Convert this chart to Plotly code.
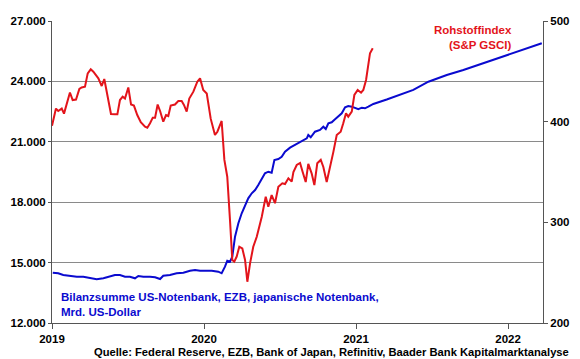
import plotly.graph_objects as go

# Commodity index (S&P GSCI), right axis; x in decimal years
red_t = [2019.000, 2019.026, 2019.041, 2019.064, 2019.079, 2019.107, 2019.118, 2019.136, 2019.158, 2019.180,
         2019.195, 2019.217, 2019.235, 2019.255, 2019.272, 2019.305, 2019.327, 2019.344, 2019.364, 2019.388,
         2019.414, 2019.430, 2019.447, 2019.465, 2019.480, 2019.502, 2019.520, 2019.539, 2019.561, 2019.584,
         2019.612, 2019.627, 2019.645, 2019.663, 2019.678, 2019.695, 2019.711, 2019.732, 2019.750, 2019.765,
         2019.781, 2019.809, 2019.831, 2019.853, 2019.868, 2019.886, 2019.903, 2019.930, 2019.956, 2019.974,
         2019.995, 2020.018, 2020.044, 2020.072, 2020.088, 2020.116, 2020.134, 2020.153, 2020.171, 2020.186,
         2020.199, 2020.215, 2020.232, 2020.252, 2020.270, 2020.285, 2020.303, 2020.324, 2020.347, 2020.380,
         2020.406, 2020.423, 2020.445, 2020.467, 2020.489, 2020.515, 2020.533, 2020.555, 2020.577, 2020.588,
         2020.610, 2020.632, 2020.649, 2020.669, 2020.686, 2020.708, 2020.726, 2020.745, 2020.768, 2020.785,
         2020.807, 2020.829, 2020.851, 2020.873, 2020.899, 2020.916, 2020.934, 2020.949, 2020.972, 2020.989,
         2021.011, 2021.033, 2021.048, 2021.066, 2021.081, 2021.092, 2021.110]
red_v = [396, 413, 410.6, 413, 408, 424.8, 429, 421.5, 422, 432.5,
         434, 434.7, 448, 452, 449.6, 443, 435.4, 442.4, 426.5, 407.6,
         407.3, 407.3, 421.5, 424.8, 423, 434, 417, 416, 406.6, 399.4,
         395, 394, 398.4, 404, 404, 417, 410.6, 400, 406.6, 405.6,
         416, 417, 420.5, 420.5, 416.6, 410, 423, 429.8, 439.7, 443,
         431.5, 428, 403, 386.8, 390, 400.7, 362, 345.3, 302, 262.6,
         261, 266, 275.8, 274, 262.6, 241, 259.3, 275.8, 285.7, 305.6,
         325.5, 315.5, 327, 319, 335.4, 338.8, 338, 343.7, 340.4, 350,
         357, 359, 350, 340, 358, 348.7, 337, 358.6, 362, 355,
         340, 353.7, 370, 386.8, 390, 398.4, 408.3, 405, 410, 426.5,
         431.5, 428.8, 431.5, 441.4, 459.6, 468, 473]

# Balance sheet total Fed + ECB + BoJ, bn USD, left axis
blue_t = [2019.005, 2019.041, 2019.074, 2019.118, 2019.163, 2019.206, 2019.250, 2019.294, 2019.338, 2019.370,
          2019.414, 2019.447, 2019.480, 2019.513, 2019.546, 2019.568, 2019.601, 2019.645, 2019.678, 2019.711,
          2019.732, 2019.776, 2019.820, 2019.864, 2019.908, 2019.941, 2019.974, 2020.018, 2020.051, 2020.094,
          2020.116, 2020.138, 2020.153, 2020.171, 2020.186, 2020.204, 2020.226, 2020.248, 2020.270, 2020.291,
          2020.314, 2020.336, 2020.357, 2020.380, 2020.401, 2020.423, 2020.445, 2020.463, 2020.489, 2020.511,
          2020.533, 2020.566, 2020.610, 2020.653, 2020.676, 2020.686, 2020.702, 2020.730, 2020.763, 2020.785,
          2020.801, 2020.818, 2020.840, 2020.862, 2020.884, 2020.906, 2020.928, 2020.949, 2020.972, 2020.993,
          2021.015, 2021.038, 2021.059, 2021.081, 2021.114, 2021.202, 2021.289, 2021.377, 2021.476, 2021.597,
          2021.706, 2021.816, 2021.926, 2022.035, 2022.145, 2022.222]
blue_v = [14498, 14469, 14384, 14334, 14300, 14300, 14220, 14170, 14220, 14300,
          14384, 14384, 14300, 14300, 14220, 14334, 14300, 14300, 14270, 14185,
          14350, 14384, 14469, 14498, 14598, 14632, 14598, 14598, 14598, 14548,
          14469, 14797, 15094, 15045, 15293, 16287, 16952, 17449, 17861, 18193,
          18442, 18606, 18855, 19187, 19436, 19515, 19465, 20096, 20146, 20260,
          20509, 20707, 20891, 21055, 21174, 21338, 21224, 21502, 21587, 21750,
          21636, 21919, 21969, 22118, 22247, 22416, 22714, 22779, 22744, 22664,
          22615, 22694, 22664, 22744, 22878, 23100, 23330, 23580, 23985, 24318,
          24566, 24849, 25147, 25396, 25674, 25892]

year_ticks = [2019, 2020, 2021, 2022]
year_labels = ["2019", "2020", "2021", "2022"]
left_ticks = [12000, 15000, 18000, 21000, 24000, 27000]
right_ticks = [200, 300, 400, 500]

FONT = "Liberation Sans, Arial, sans-serif"
RED = "#E3141B"
BLUE = "#0A0ACF"

fig = go.Figure()
fig.add_trace(go.Scatter(x=red_t, y=red_v, yaxis="y2", mode="lines",
                         line=dict(color=RED, width=2), showlegend=False))
fig.add_trace(go.Scatter(x=blue_t, y=blue_v, yaxis="y", mode="lines",
                         line=dict(color=BLUE, width=2), showlegend=False))

tf = dict(family=FONT, size=11.5, color="#000000", weight="bold")
fig.update_layout(
    width=572, height=351,
    margin=dict(l=44, r=37, t=13, b=36, autoexpand=False),
    paper_bgcolor="white", plot_bgcolor="white",
    separators=",.",
    font=dict(family=FONT),
    xaxis=dict(range=[2019, 2022.23], tickvals=year_ticks, ticktext=year_labels, automargin=False,
               showgrid=False, zeroline=False, showline=True, linecolor="#555555", linewidth=1,
               ticks="outside", ticklen=5, tickcolor="#555555", tickfont=tf),
    yaxis=dict(range=[12000, 27000], tickvals=left_ticks, tickformat=",d", automargin=False,
               showgrid=True, gridcolor="#8a8a8a", gridwidth=1, zeroline=False,
               showline=True, linecolor="#555555", linewidth=1,
               ticks="outside", ticklen=3, tickcolor="#555555", tickfont=tf),
    yaxis2=dict(range=[200, 500], tickvals=right_ticks, overlaying="y", side="right", automargin=False,
                showgrid=False, zeroline=False, showline=True, linecolor="#555555", linewidth=1,
                ticks="outside", ticklen=4, tickcolor="#555555", tickfont=tf),
    annotations=[
        dict(text="Rohstoffindex<br>(S&P GSCI)", xref="paper", yref="paper", x=0.941, y=0.947,
             xanchor="right", yanchor="middle", align="right", showarrow=False,
             font=dict(family=FONT, size=11.5, color=RED, weight="bold")),
        dict(text="Bilanzsumme US-Notenbank, EZB, japanische Notenbank,<br>Mrd. US-Dollar",
             xref="paper", yref="paper", x=0.014, y=0.06, xanchor="left", yanchor="middle",
             align="left", showarrow=False,
             font=dict(family=FONT, size=11.5, color=BLUE, weight="bold")),
        dict(text="Quelle: Federal Reserve, EZB, Bank of Japan, Refinitiv, Baader Bank Kapitalmarktanalyse",
             xref="paper", yref="paper", x=1.058, y=-0.096, xanchor="right", yanchor="middle",
             showarrow=False, font=dict(family=FONT, size=11.2, color="#000000", weight="bold")),
    ],
)
fig.write_html("out.html")
